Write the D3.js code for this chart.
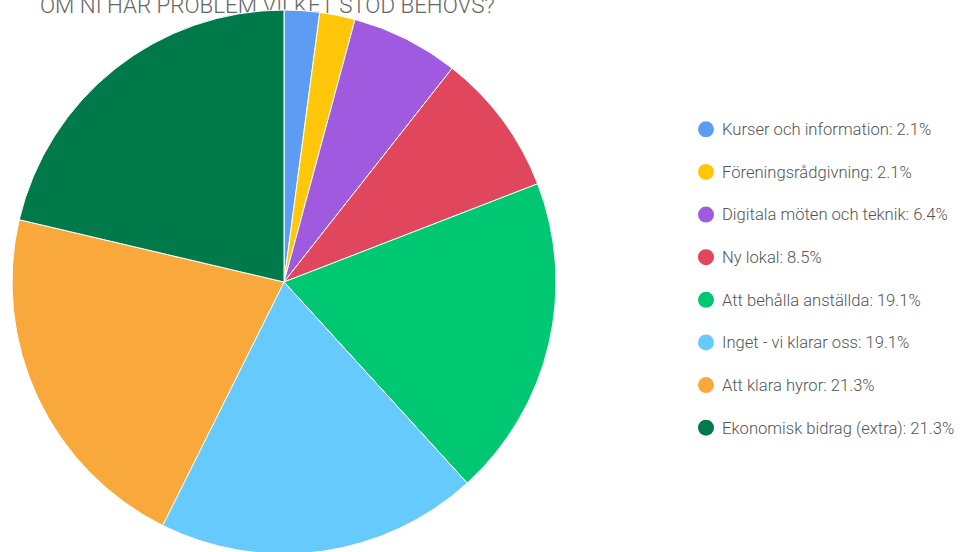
<!DOCTYPE html>
<html>
<head>
<meta charset="utf-8">
<title>Om ni har problem vilket stöd behövs?</title>
<script src="https://d3js.org/d3.v7.min.js"></script>
<style>
  body { margin: 0; background: #fff; }
  svg { display: block; }
</style>
</head>
<body>
<svg width="976" height="552"></svg>
<script>
    const labels = ["Kurser och information", "Föreningsrådgivning", "Digitala möten och teknik", "Ny lokal",
                    "Att behålla anställda", "Inget - vi klarar oss", "Att klara hyror", "Ekonomisk bidrag (extra)"];
    const percents = [2.1, 2.1, 6.4, 8.5, 19.1, 19.1, 21.3, 21.3];
    const colors = ["#5c9cf5", "#ffc60a", "#a05ae0", "#e0465c", "#00c872", "#66cbfc", "#f9a83c", "#007a4b"];
    const title = "OM NI HAR PROBLEM VILKET STÖD BEHÖVS?";

    const data = labels.map((l, i) => ({ label: l, value: percents[i], color: colors[i] }));
    const svg = d3.select("svg");

    svg.append("text")
        .attr("x", 40)
        .attr("y", 13)
        .attr("font-family", "Roboto")
        .attr("font-weight", 300)
        .attr("font-size", 22.3)
        .attr("fill", "#666")
        .text(title);

    const pie = d3.pie().sort(null).value(d => d.value);
    const arc = d3.arc().innerRadius(0).outerRadius(272);

    svg.append("g")
        .attr("transform", "translate(284,282)")
        .selectAll("path").data(pie(data)).enter().append("path")
            .attr("d", arc)
            .attr("fill", d => d.data.color)
            .attr("stroke", "#fff")
            .attr("stroke-width", 1);

    // legend
    const y = d3.scaleBand()
        .domain(labels)
        .range([108, 449]);

    const legend = svg.append("g").selectAll("g").data(data).enter().append("g")
        .attr("transform", d => "translate(706," + (y(d.label) + y.bandwidth() / 2) + ")");

    legend.append("circle")
        .attr("r", 8)
        .attr("fill", d => d.color);

    legend.append("text")
        .attr("x", 16)
        .attr("dy", "0.35em")
        .attr("font-family", "Roboto")
        .attr("font-weight", 300)
        .attr("font-size", 16.6)
        .attr("fill", "#555")
        .text(d => d.label + ": " + d.value.toFixed(1) + "%");
</script>
</body>
</html>
